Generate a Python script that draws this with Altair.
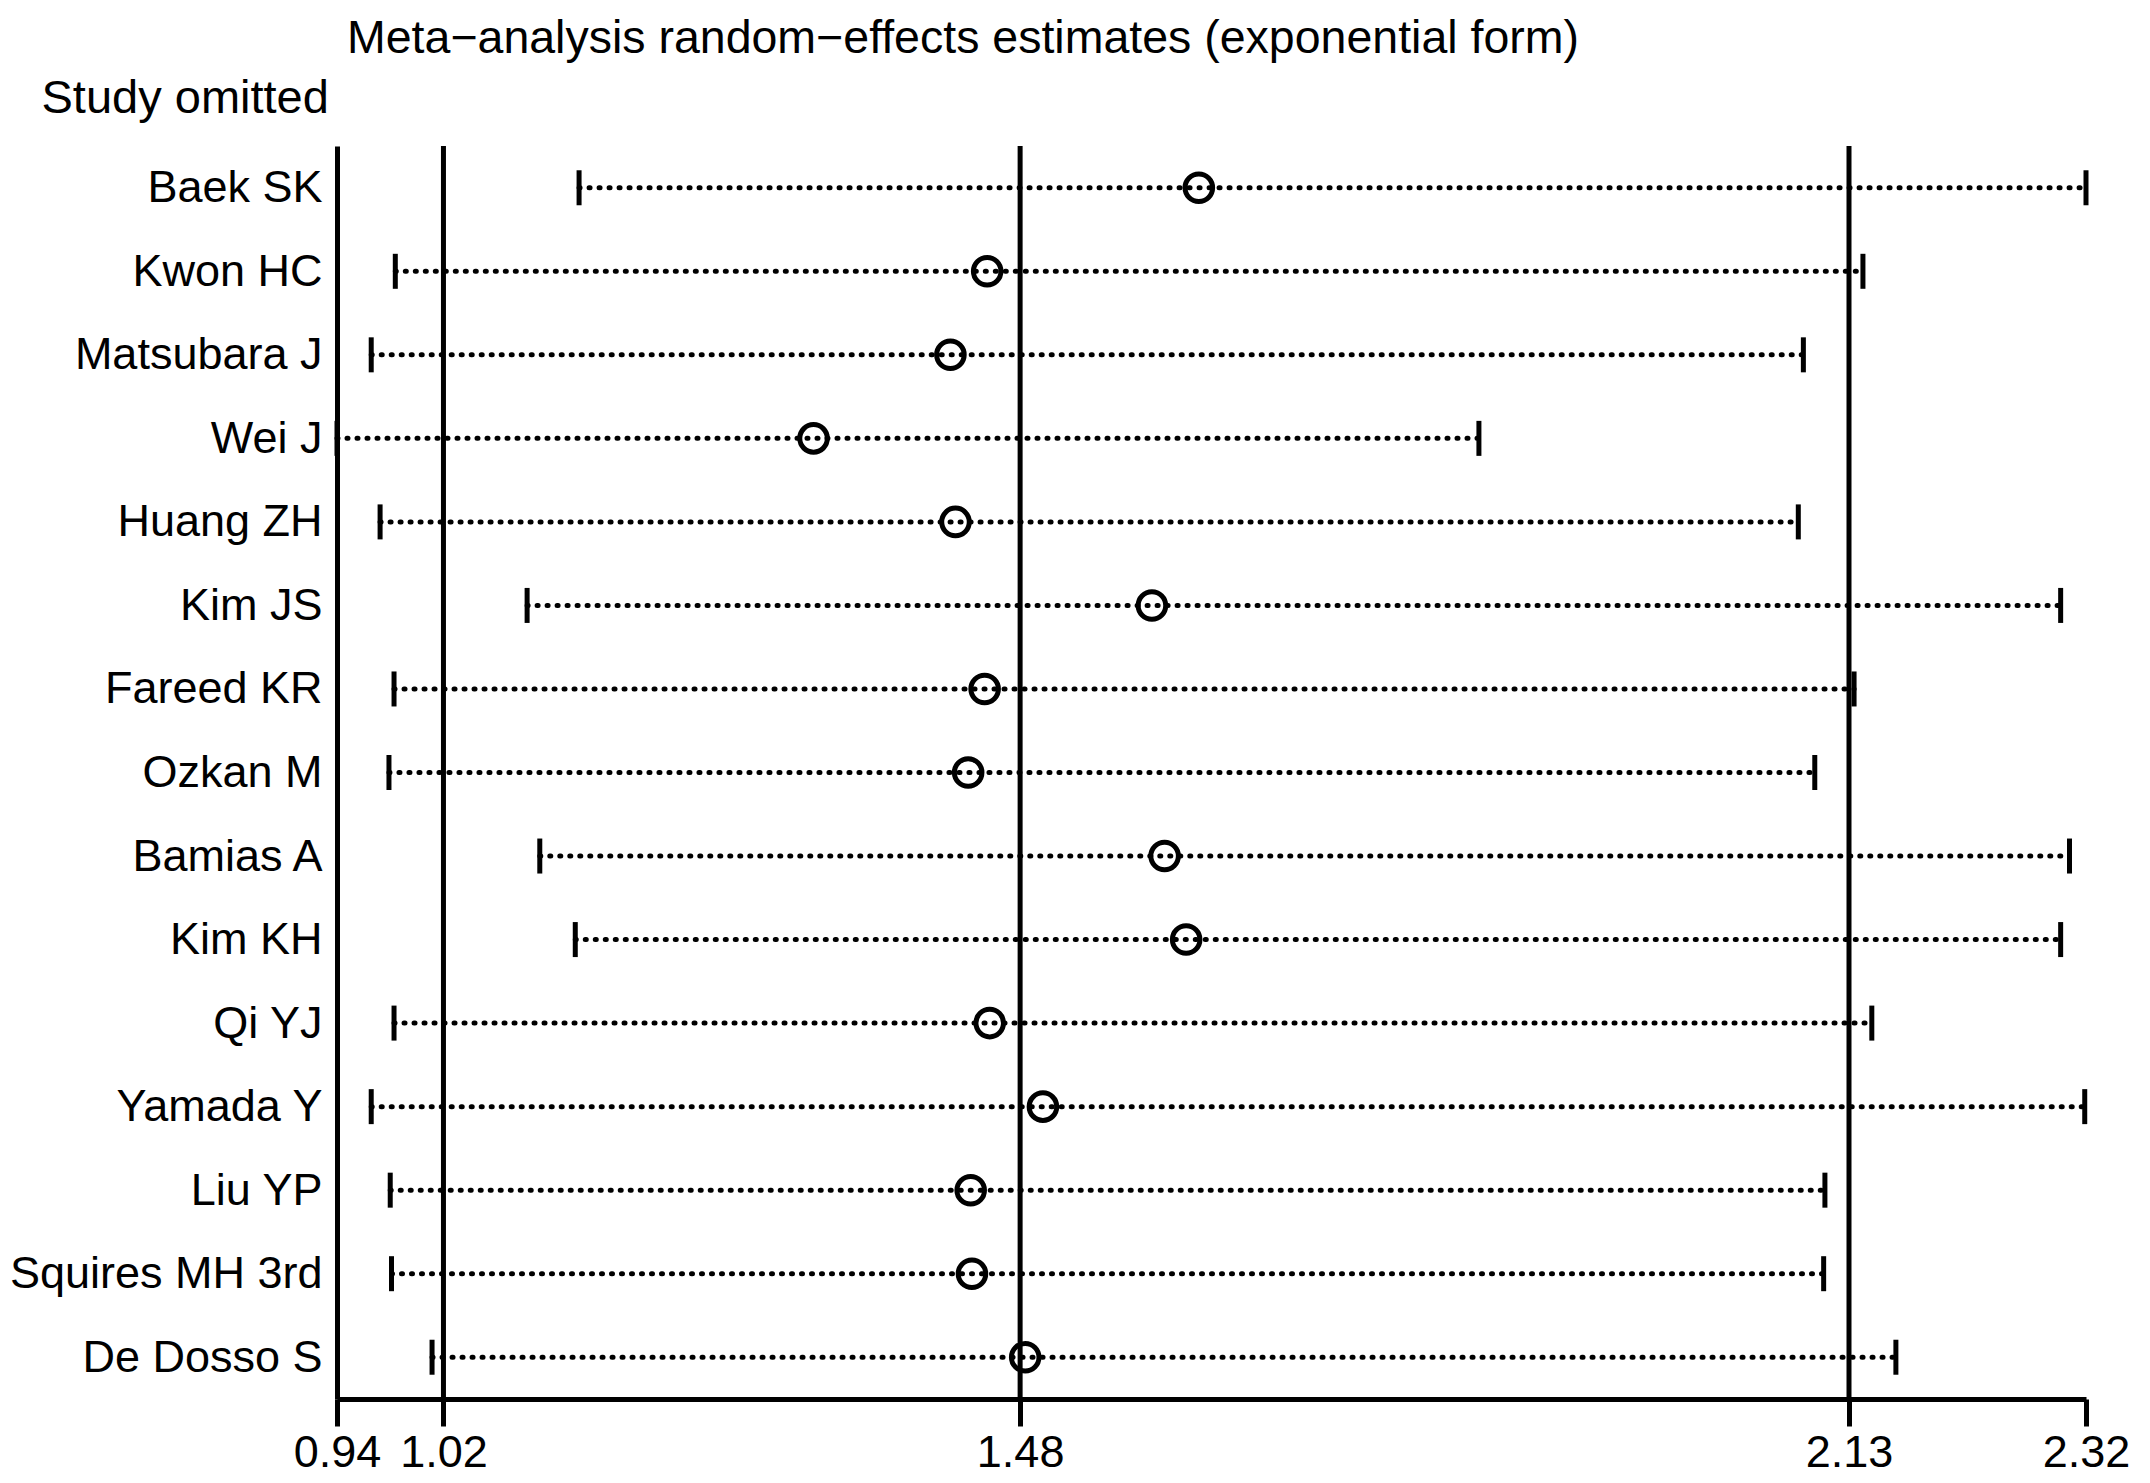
import altair as alt
import pandas as pd

studies = ["Baek SK", "Kwon HC", "Matsubara J", "Wei J", "Huang ZH", "Kim JS",
           "Fareed KR", "Ozkan M", "Bamias A", "Kim KH", "Qi YJ", "Yamada Y",
           "Liu YP", "Squires MH 3rd", "De Dosso S"]
estimate = [1.620, 1.453, 1.424, 1.316, 1.428, 1.583, 1.451, 1.438, 1.593, 1.610,
            1.455, 1.497, 1.440, 1.441, 1.483]
lower = [1.131, 0.986, 0.967, 0.940, 0.974, 1.090, 0.985, 0.981, 1.100, 1.128,
         0.985, 0.967, 0.982, 0.983, 1.015]
upper = [2.320, 2.144, 2.097, 1.841, 2.093, 2.300, 2.137, 2.106, 2.307, 2.300,
         2.151, 2.319, 2.114, 2.113, 2.170]
ref_lines = [1.024, 1.479, 2.133]
tick_values = [0.940, 1.024, 1.479, 2.133, 2.320]

FONT = "Liberation Sans"
FS = 45

df = pd.DataFrame({"study": studies, "est": estimate, "lo": lower, "hi": upper})
ref_df = pd.DataFrame({"v": ref_lines})

xscale = alt.Scale(domain=[min(tick_values), max(tick_values)], nice=False, zero=False)
xaxis = alt.Axis(values=tick_values, format=".2f", title=None, grid=False,
                 labelFont=FONT, labelFontSize=FS, labelColor="black",
                 labelOverlap=False, labelFlush=False, labelPadding=4, labelLimit=0,
                 tickSize=27, tickWidth=5, tickColor="black",
                 domainWidth=5, domainColor="black")
yaxis = alt.Axis(title="Study omitted", titleAngle=0, titleAlign="left",
                 titleBaseline="alphabetic", titleX=-296, titleY=-34,
                 titleFont=FONT, titleFontSize=47, titleFontWeight="normal",
                 titleColor="black", titleLimit=0,
                 labelFont=FONT, labelFontSize=FS, labelColor="black",
                 labelPadding=15, labelLimit=0, ticks=False, grid=False,
                 domainWidth=5, domainColor="black")

base = alt.Chart(df).encode(
    y=alt.Y("study:N", sort=studies, scale=alt.Scale(type="point", padding=0.5), axis=yaxis)
)

dots = base.mark_rule(color="black", strokeWidth=5, strokeDash=[1, 9], strokeCap="round",
                      opacity=1).encode(
    x=alt.X("lo:Q", scale=xscale, axis=xaxis), x2="hi:Q")
lo_tick = base.mark_tick(color="black", thickness=5, size=35, orient="vertical",
                         opacity=1).encode(x="lo:Q")
hi_tick = base.mark_tick(color="black", thickness=5, size=35, orient="vertical",
                         opacity=1).encode(x="hi:Q")
pts = base.mark_point(shape="circle", size=760, strokeWidth=5, color="black",
                      filled=False, opacity=1).encode(x="est:Q")

refs = alt.Chart(ref_df).mark_rule(color="black", strokeWidth=5).encode(x="v:Q")

chart = alt.layer(refs, dots, lo_tick, hi_tick, pts).properties(
    width=1749, height=1253,
    padding={"left": 329, "top": 138, "right": 55, "bottom": 85},
    autosize=alt.AutoSizeParams(type="none"),
    title=alt.TitleParams(
        text="Meta\u2212analysis random\u2212effects estimates (exponential form)",
        anchor="start", frame="group", dx=10, offset=-25,
        font=FONT, fontSize=46.5, fontWeight="normal", color="black",
        baseline="alphabetic"),
).configure(background="white", view=alt.ViewConfig(stroke=None))

chart.save("out.html", embed_options={"renderer": "svg", "actions": False})
